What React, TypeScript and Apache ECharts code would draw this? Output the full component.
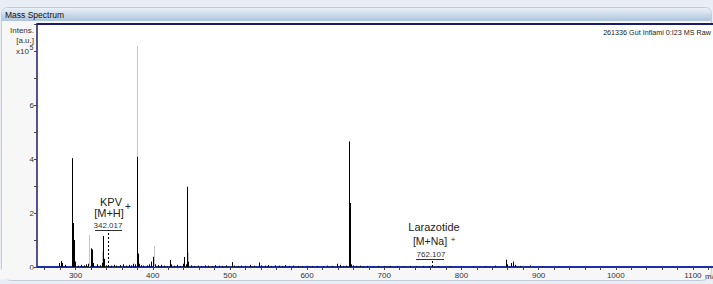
import React, { useEffect, useRef } from "react";
import * as echarts from "echarts";

// Black sticks (m/z, intensity x10^5)
const blackMz = [
  278.5, 281.0, 283.0, 286.0, 295.0, 296.2, 296.7, 297.3, 297.8, 298.4, 299.3, 303, 307, 311, 314, 316.5,
  319.6, 320.2, 320.9, 322, 327.4, 331, 334.8, 336.0, 336.8, 339, 346, 350, 353, 357, 361, 365, 369, 372,
  375, 377.5, 379.3, 380.0, 380.6, 381.3, 382.5, 385, 388, 392, 395, 398, 400.0, 400.8, 403, 407, 411, 414,
  418, 422.4, 423.2, 427, 431, 435, 439, 441.0, 442.5, 444.8, 445.5, 449, 454, 458, 463, 468, 472, 477, 481,
  486, 490, 495, 502.4, 505, 510, 515, 520, 526, 531, 537.8, 540, 545, 549, 553, 558, 563, 567, 572, 577,
  582, 588, 594, 600, 607, 613, 620, 626, 632, 638.5, 642.7, 646, 650, 654.8, 655.2, 656.2, 657, 659, 663,
  668, 672, 678, 685, 692, 700, 708, 716, 725, 733, 741, 750, 758, 770, 785, 800, 815, 830, 843.6, 857.9,
  859.6, 864, 867.4, 869, 876, 889, 905,
];
const blackIntensity = [
  0.15, 0.22, 0.15, 0.08, 4.03, 1.63, 1.4, 1.0, 0.9, 0.5, 0.2, 0.05, 0.08, 0.06, 0.1, 0.12,
  0.69, 0.6, 0.65, 0.15, 0.1, 0.06, 0.15, 1.15, 0.3, 0.06, 0.05, 0.08, 0.05, 0.07, 0.1, 0.05, 0.08, 0.06,
  0.12, 0.1, 4.08, 2.93, 0.5, 0.25, 0.12, 0.07, 0.05, 0.06, 0.1, 0.2, 0.38, 0.25, 0.1, 0.07, 0.08, 0.05,
  0.04, 0.26, 0.1, 0.05, 0.08, 0.04, 0.12, 0.37, 0.1, 2.97, 0.2, 0.06, 0.04, 0.05, 0.04, 0.06, 0.05, 0.04, 0.07,
  0.05, 0.04, 0.06, 0.18, 0.05, 0.04, 0.05, 0.04, 0.08, 0.05, 0.17, 0.06, 0.05, 0.07, 0.04, 0.06, 0.05, 0.04, 0.07, 0.04,
  0.05, 0.04, 0.03, 0.04, 0.03, 0.04, 0.03, 0.05, 0.04, 0.12, 0.08, 0.04, 0.05, 4.65, 2.37, 0.3, 0.1, 0.06, 0.04,
  0.05, 0.03, 0.04, 0.03, 0.04, 0.03, 0.04, 0.03, 0.03, 0.04, 0.03, 0.04, 0.03, 0.03, 0.03, 0.02, 0.03, 0.03, 0.05, 0.27,
  0.1, 0.15, 0.2, 0.08, 0.04, 0.06, 0.02,
];

// Grey sticks
const greyMz = [295.8, 317.8, 333.8, 379.5, 401.7, 446.1, 655.6];
const greyIntensity = [2.05, 1.18, 0.57, 8.19, 0.78, 0.53, 1.55];

// Annotated peaks
const annotMz = [342.017, 762.107];
const annotHeight = [1.37, 0.26];

const xTickLabels = [300, 400, 500, 600, 700, 800, 900, 1000, 1100];
const yTickLabels = [0, 2, 4, 6];

const FONT = "'Liberation Sans', Arial, sans-serif";

function stickSeries(mz: number[], inten: number[], color: string, z: number, extra: any = {}) {
  return {
    type: "custom",
    z,
    data: mz.map((m, i) => [m, inten[i]]),
    encode: { x: 0, y: 1 },
    renderItem: (_params: any, api: any) => {
      const x = api.value(0);
      const h = api.value(1);
      const p0 = api.coord([x, 0]);
      const p1 = api.coord([x, h]);
      const px = Math.round(p0[0]) + 0.5;
      return {
        type: "line",
        shape: { x1: px, y1: p0[1], x2: px, y2: p1[1] },
        style: { stroke: color, lineWidth: 1 },
      };
    },
    ...extra,
  };
}

export default function App() {
  const ref = useRef<HTMLDivElement>(null);
  useEffect(() => {
    if (!ref.current) return;
    const chart = echarts.init(ref.current, undefined, { renderer: "svg" });
    const plotLeft = 37;
    const xMin0 = 250;
    const xMax = 1126;
    const scale = (713 - plotLeft) / (xMax - xMin0);
    const tickMin = 260;
    const gridLeft = plotLeft + (tickMin - xMin0) * scale;
    const txt = (text: string, x: number, y: number, fontSize: number, align = "center", fill = "#222") => ({
      type: "text",
      z: 5,
      style: { text, x, y, align, verticalAlign: "middle", fontSize, fontFamily: FONT, fill },
    });

    chart.setOption({
      animation: false,
      backgroundColor: "#e9eef4",
      grid: { left: gridLeft, right: 0, top: 24, bottom: 17, containLabel: false },
      xAxis: {
        type: "value",
        min: tickMin,
        max: xMax,
        interval: 20,
        axisLine: { show: true, lineStyle: { color: "#1d2fa6", width: 2 } },
        axisTick: { show: true, length: 3, lineStyle: { color: "#444", width: 1 } },
        axisLabel: {
          formatter: (v: number) => (xTickLabels.includes(v) ? String(v) : ""),
          fontSize: 8,
          color: "#333",
          fontFamily: FONT,
          margin: 4,
          showMinLabel: true,
          showMaxLabel: false,
        },
        splitLine: { show: false },
      },
      yAxis: {
        type: "value",
        min: 0,
        max: 9,
        interval: 1,
        offset: gridLeft - plotLeft,
        axisLine: { show: true, lineStyle: { color: "#1b1b6e", width: 1.5 } },
        axisTick: { show: true, length: 3, lineStyle: { color: "#444", width: 1 } },
        axisLabel: {
          formatter: (v: number) => (yTickLabels.includes(v) ? String(v) : ""),
          fontSize: 8,
          color: "#333",
          fontFamily: FONT,
          margin: 3,
        },
        splitLine: { show: false },
      },
      series: [
        stickSeries(greyMz, greyIntensity, "#c6c6c6", 2),
        stickSeries(blackMz, blackIntensity, "#000000", 3, {
          markLine: {
            silent: true,
            symbol: "none",
            label: { show: false },
            lineStyle: { type: [2, 2], color: "#000", width: 1 },
            data: annotMz.map((m, i) => [{ coord: [m, 0] }, { coord: [m, annotHeight[i]] }]),
          },
        }),
      ],
      graphic: [
        // window body
        { type: "rect", z: -20, shape: { x: 1.5, y: 7.5, width: 710, height: 273, r: [6, 6, 10, 10] }, style: { fill: "#f7f7f7", stroke: "#c3ccd6", lineWidth: 1 } },
        // title bar
        {
          type: "rect", z: -19,
          shape: { x: 2, y: 8, width: 709, height: 13, r: [6, 6, 0, 0] },
          style: {
            fill: new echarts.graphic.LinearGradient(0, 0, 0, 1, [
              { offset: 0, color: "#eaf1f9" },
              { offset: 1, color: "#adc4dd" },
            ]),
          },
        },
        txt("Mass Spectrum", 5, 15, 8.5, "left", "#111"),
        // plot area
        { type: "rect", z: -18, shape: { x: plotLeft, y: 24, width: 713 - plotLeft, height: 243 }, style: { fill: "#ffffff" } },
        { type: "line", z: 5, shape: { x1: plotLeft - 0.5, y1: 24, x2: 713, y2: 24 }, style: { stroke: "#1b1b6e", lineWidth: 2 } },
        { type: "line", z: 5, shape: { x1: plotLeft - 0.5, y1: 267, x2: gridLeft + 1, y2: 267 }, style: { stroke: "#1d2fa6", lineWidth: 2 } },
        // hide lower half of "0"
        { type: "rect", z: 6, shape: { x: 0, y: 269.5, width: plotLeft - 3, height: 10 }, style: { fill: "#f7f7f7" } },
        // y axis title
        txt("Intens.", 34, 30, 8, "right", "#333"),
        txt("[a.u.]", 34, 40, 8, "right", "#333"),
        txt("x10", 29, 51, 8, "right", "#333"),
        txt("5", 29.5, 47, 7, "left", "#333"),
        // top-right info
        txt("261336 Gut Inflami 0:I23 MS Raw", 711, 32, 7.2, "right", "#222"),
        // m/z label
        txt("m/z", 705, 276, 8, "left", "#333"),
        // KPV annotation
        txt("KPV", 111, 202, 11),
        txt("+", 128, 206, 10),
        txt("[M+H]", 109, 213, 11),
        txt("342.017", 108, 225, 8, "center", "#333"),
        { type: "line", z: 5, shape: { x1: 95, y1: 230.5, x2: 122, y2: 230.5 }, style: { stroke: "#333", lineWidth: 1 } },
        // Larazotide annotation
        txt("Larazotide", 434, 227, 11),
        txt("[M+Na]", 430, 241, 10.5),
        txt("+", 453, 239, 8),
        txt("762.107", 431, 254, 8, "center", "#333"),
        { type: "line", z: 5, shape: { x1: 416, y1: 259.5, x2: 444, y2: 259.5 }, style: { stroke: "#333", lineWidth: 1 } },
      ],
    });
    return () => chart.dispose();
  }, []);
  return (
    <div style={{ position: "fixed", left: 0, top: 0, width: 713, height: 284, overflow: "hidden" }}>
      <div ref={ref} style={{ width: 713, height: 284 }} />
    </div>
  );
}
